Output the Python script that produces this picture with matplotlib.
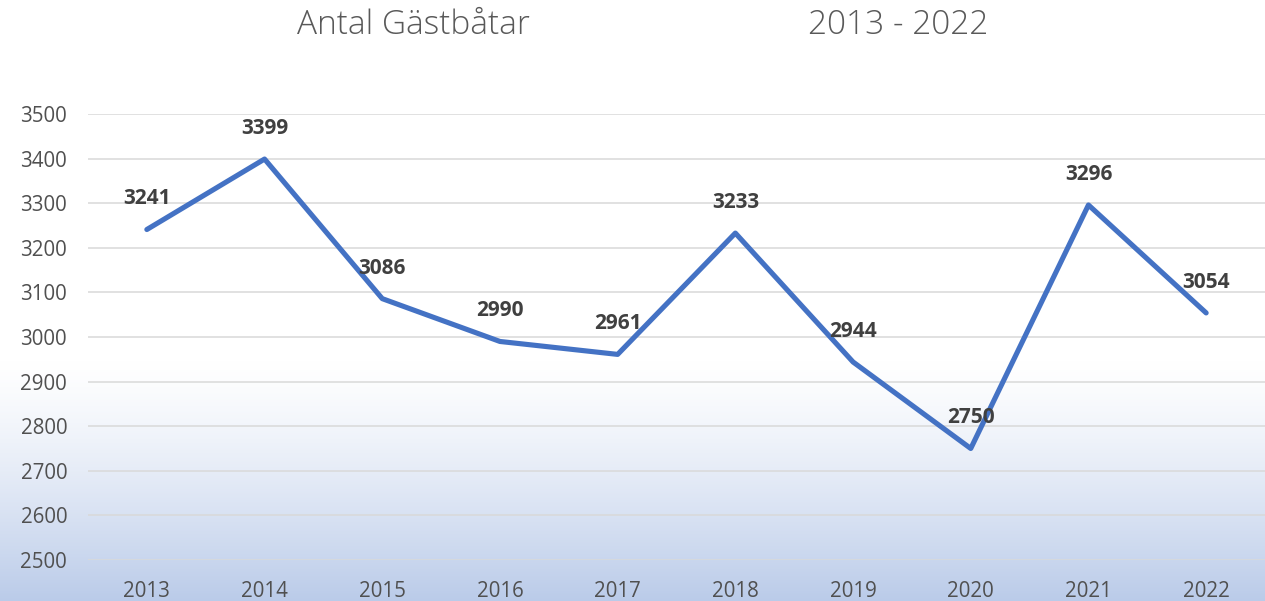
import numpy as np
import matplotlib.pyplot as plt

# data
years = ['2013', '2014', '2015', '2016', '2017', '2018', '2019', '2020', '2021', '2022']
boats = [3241, 3399, 3086, 2990, 2961, 3233, 2944, 2750, 3296, 3054]
y_ticks = [2500, 2600, 2700, 2800, 2900, 3000, 3100, 3200, 3300, 3400, 3500]

plt.rcParams['font.family'] = ['Open Sans', 'DejaVu Sans']

fig = plt.figure(figsize=(12.65, 6.01), dpi=100)

# background gradient: white at top, soft blue at the bottom
bg = fig.add_axes([0, 0, 1, 1], zorder=-1)
h = 601
t = np.clip((np.arange(h) - 360) / (h - 360), 0, 1) ** 1.3
top = np.array([1.0, 1.0, 1.0])
bottom = np.array([186, 203, 233]) / 255
grad = top[None, :] * (1 - t[:, None]) + bottom[None, :] * t[:, None]
bg.imshow(grad[:, None, :].repeat(2, axis=1), aspect='auto', extent=[0, 1, 0, 1])
bg.axis('off')

ax = fig.add_axes([88 / 1265, 1 - 560 / 601, 1 - 88 / 1265, (560 - 114) / 601])
ax.patch.set_alpha(0)

x = np.arange(len(years))
ax.plot(x, boats, color='#4472C4', lw=3.7, solid_joinstyle='round',
        solid_capstyle='round', zorder=3)

for xi, v in zip(x, boats):
    ax.annotate(str(v), (xi, v), xytext=(0, 22), textcoords='offset points',
                ha='center', va='center', fontsize=15, fontweight='bold',
                color='#404040', zorder=4)

ax.set_xlim(-0.5, len(years) - 0.5)
ax.set_ylim(2500, 3500)
ax.set_xticks(x)
ax.set_xticklabels(years)
ax.set_yticks(y_ticks)
ax.grid(axis='y', color='#D9D9D9', lw=1.1)
ax.set_axisbelow(True)
for s in ax.spines.values():
    s.set_visible(False)
ax.tick_params(length=0, labelsize=14.8, colors='#505050')
ax.tick_params(axis='x', pad=15)
ax.tick_params(axis='y', pad=15)

fig.text(413 / 1265, 1 - 25 / 601, 'Antal Gästbåtar', ha='center', va='center',
         fontsize=24, color='#595959', fontweight='light')
fig.text(898 / 1265, 1 - 25 / 601, '2013 - 2022', ha='center', va='center',
         fontsize=24, color='#595959', fontweight='light')

fig.savefig('out.png', dpi=100)
